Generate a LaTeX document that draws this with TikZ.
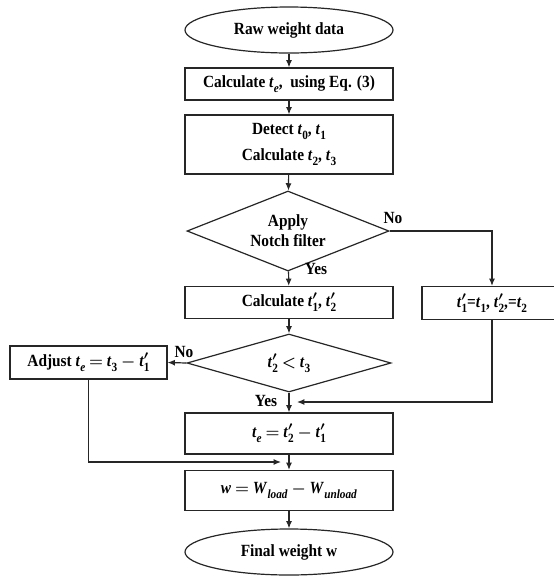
\documentclass[tikz,border=0pt]{standalone}
\usepackage{fontspec}
\setmainfont[FakeStretch=0.9]{Liberation Serif}
\usetikzlibrary{shapes.geometric,arrows.meta}

% one drawing unit = one pixel
\newcommand\px{0.75pt}
\newcommand\fsz{\fontsize{12.8pt}{15pt}\selectfont}
% lowered subscript, a little larger than \textsubscript
\newcommand\lowsub[1]{\raisebox{-0.3em}{\fontsize{9.4pt}{10pt}\selectfont #1}}
% italic symbol with subscript
\newcommand\tsub[2]{\textit{#1}\lowsub{#2}}
% primed t with subscript
\newcommand\tpr[1]{\textit{t}\rlap{\raisebox{0.05em}{$^{\prime}$}}\lowsub{#1}}

\tikzset{
  base/.style={draw=black!85, line width=0.9pt, inner sep=0pt, align=center,
               font=\fsz\bfseries\boldmath, text=black},
  box/.style={base, rectangle, minimum width=208*\px},
  term/.style={base, ellipse, minimum width=208*\px, minimum height=46*\px},
  decision/.style={base, diamond, shape aspect=2.5},
  conn/.style={draw=black!85, line width=0.9pt, -{Latex[length=5.5pt,width=4.5pt]}},
  lbl/.style={inner sep=0pt, font=\fsz\bfseries}
}

\begin{document}
\begin{tikzpicture}[x=\px, y=-\px]
  \useasboundingbox (0,0) rectangle (554,576);
  \clip (0,0) rectangle (554,576);
  \fill[white] (0,0) rectangle (554,576);

  % main column
  \node[term] (start) at (289,30) {Raw weight data};
  \node[box, minimum height=32*\px] (te0) at (289,84)
    {Calculate \tsub{t}{\textit{e}},\ \ using Eq. (3)};
  \node[box, minimum height=59*\px, font=\fontsize{12.8pt}{19pt}\selectfont\bfseries\boldmath]
    (det) at (289,144.5)
    {Detect \tsub{t}{0}, \tsub{t}{1}\\Calculate \tsub{t}{2}, \tsub{t}{3}};
  \node[decision, minimum width=202*\px, minimum height=80*\px,
        font=\fontsize{12.8pt}{15pt}\selectfont\bfseries] (notch) at (288,231)
    {Apply\\Notch filter};
  \node[box, minimum height=32*\px] (calc) at (289,302.5)
    {Calculate \tpr{1}, \tpr{2}};
  \node[decision, minimum width=204*\px, minimum height=58*\px] (cmp) at (289,363)
    {\tpr{2} $<$ \tsub{t}{3}};
  \node[box, minimum height=41*\px] (te) at (289,433.5)
    {\tsub{t}{\textit{e}} $=$ \tpr{2} $-$ \tpr{1}};
  \node[box, minimum height=40*\px] (wt) at (289,490.5)
    {\textit{w} $=$ \tsub{W}{\textit{load}} $-$ \tsub{W}{\textit{unload}}};
  \node[term] (final) at (289,552) {Final weight w};

  % side boxes
  \node[box, minimum width=140*\px, minimum height=33*\px] (skip) at (492,303)
    {\tpr{1}=\tsub{t}{1}, \tpr{2},=\tsub{t}{2}};
  \node[box, minimum width=157*\px, minimum height=33*\px] (adj) at (88.5,362.5)
    {Adjust \tsub{t}{\textit{e}} $=$ \tsub{t}{3} $-$ \tpr{1}};

  % free ends of the merging arrows
  \coordinate (mergeR) at (297,402);
  \coordinate (mergeL) at (281,462);

  % connectors
  \draw[conn] (start) -- (te0);
  \draw[conn] (te0) -- (det);
  \draw[conn] (det) -- (notch);
  \draw[conn] (notch) -- (calc);
  \draw[conn] (notch.east) -| (skip.north);
  \draw[conn] (calc) -- (cmp);
  \draw[conn] (cmp.west) -- (adj.east);
  \draw[conn] (cmp) -- (te);
  \draw[conn] (skip.south) |- (mergeR);
  \draw[conn] (te) -- (wt);
  \draw[conn] (adj.south) |- (mergeL);
  \draw[conn] (wt) -- (final);

  % branch labels
  \node[lbl] at (393,218) {No};
  \node[lbl] at (316,269) {Yes};
  \node[lbl] at (184,352) {No};
  \node[lbl] at (266,401) {Yes};
\end{tikzpicture}
\end{document}
